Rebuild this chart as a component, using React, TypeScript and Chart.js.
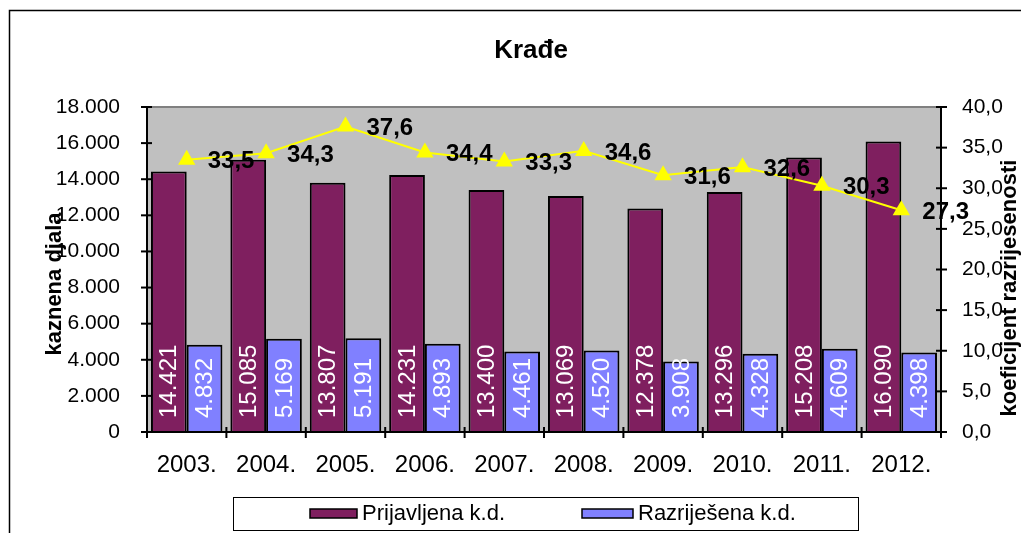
import React, { useEffect, useRef } from "react";
import { Chart, registerables } from "chart.js";

Chart.register(...registerables);

const categories = ["2003.", "2004.", "2005.", "2006.", "2007.", "2008.", "2009.", "2010.", "2011.", "2012."];
const prijavljena = [14421, 15085, 13807, 14231, 13400, 13069, 12378, 13296, 15208, 16090];
const razrijesena = [4832, 5169, 5191, 4893, 4461, 4520, 3908, 4328, 4609, 4398];
const koeficijent = [33.5, 34.3, 37.6, 34.4, 33.3, 34.6, 31.6, 32.6, 30.3, 27.3];

const titleText = "Krađe";
const leftTitle = "kaznena djala";
const rightTitle = "koeficijent razrijesenosti";
const seriesNames = ["Prijavljena k.d.", "Razriješena k.d."];
const leftMax = 18000;
const leftStep = 2000;
const rightMax = 40;
const rightStep = 5;

const FAMILY = "'Liberation Sans', Arial, sans-serif";
const MAROON = "#7F1F5F";
const BLUE = "#8080FF";
const YELLOW = "#FFFF00";

const fmtThousands = (n: number) => Math.round(n).toString().replace(/\B(?=(\d{3})+(?!\d))/g, ".");
const fmtDec = (n: number) => n.toFixed(1).replace(".", ",");

const decorPlugin = {
  id: "decor",
  beforeDraw(chart: any) {
    const { ctx, chartArea } = chart;
    ctx.save();
    ctx.fillStyle = "#ffffff";
    ctx.fillRect(0, 0, chart.width, chart.height);
    ctx.fillStyle = "#C0C0C0";
    ctx.fillRect(chartArea.left, chartArea.top, chartArea.right - chartArea.left, chartArea.bottom - chartArea.top);
    ctx.restore();
  },
  afterDatasetsDraw(chart: any) {
    const { ctx, chartArea } = chart;
    const yBottom = chartArea.bottom;
    ctx.save();
    // bar labels
    ctx.fillStyle = "#ffffff";
    ctx.font = `24px ${FAMILY}`;
    ctx.textAlign = "left";
    ctx.textBaseline = "middle";
    [0, 1].forEach((di) => {
      const meta = chart.getDatasetMeta(di);
      const data = chart.data.datasets[di].data as number[];
      meta.data.forEach((el: any, i: number) => {
        ctx.save();
        ctx.translate(el.x + 1, yBottom - 14);
        ctx.rotate(-Math.PI / 2);
        ctx.fillText(fmtThousands(data[i]), 0, 0);
        ctx.restore();
      });
    });
    // line labels
    const lmeta = chart.getDatasetMeta(2);
    ctx.fillStyle = "#000000";
    ctx.font = `bold 24px ${FAMILY}`;
    lmeta.data.forEach((el: any, i: number) => {
      ctx.fillText(fmtDec(koeficijent[i]), el.x + 21, el.y + 2);
    });
    ctx.restore();
  },
  afterDraw(chart: any) {
    const { ctx, chartArea, scales } = chart;
    const { left, right, top, bottom } = chartArea;
    ctx.save();
    // plot border
    ctx.lineWidth = 2;
    ctx.strokeStyle = "#808080";
    ctx.beginPath();
    ctx.moveTo(left, top);
    ctx.lineTo(right, top);
    ctx.stroke();
    ctx.strokeStyle = "#000000";
    ctx.beginPath();
    ctx.moveTo(left, top);
    ctx.lineTo(left, bottom);
    ctx.lineTo(right, bottom);
    ctx.lineTo(right, top);
    ctx.stroke();
    // ticks
    ctx.lineWidth = 2;
    for (let v = 0; v <= leftMax; v += leftStep) {
      const y = scales.y.getPixelForValue(v);
      ctx.beginPath();
      ctx.moveTo(left - 6, y);
      ctx.lineTo(left + 5, y);
      ctx.stroke();
    }
    for (let v = 0; v <= rightMax; v += rightStep) {
      const y = scales.y1.getPixelForValue(v);
      ctx.beginPath();
      ctx.moveTo(right - 5, y);
      ctx.lineTo(right + 6, y);
      ctx.stroke();
    }
    const catW = (right - left) / categories.length;
    for (let i = 0; i <= categories.length; i++) {
      const x = left + i * catW;
      ctx.beginPath();
      ctx.moveTo(x, bottom - 5);
      ctx.lineTo(x, bottom + 6);
      ctx.stroke();
    }
    // title
    ctx.fillStyle = "#000000";
    ctx.textAlign = "center";
    ctx.textBaseline = "middle";
    ctx.font = `bold 26px ${FAMILY}`;
    ctx.fillText(titleText, 531, 51);
    // axis titles
    ctx.font = `bold 22px ${FAMILY}`;
    ctx.save();
    ctx.translate(55, 284);
    ctx.rotate(-Math.PI / 2);
    ctx.fillText(leftTitle, 0, 0);
    ctx.restore();
    ctx.save();
    ctx.translate(1010, 288);
    ctx.rotate(-Math.PI / 2);
    ctx.fillText(rightTitle, 0, 0);
    ctx.restore();
    // legend
    ctx.lineWidth = 1;
    ctx.strokeStyle = "#000000";
    ctx.strokeRect(233.5, 497.5, 625, 33);
    const items = [
      { sx: 310, tx: 362, color: MAROON, label: seriesNames[0] },
      { sx: 582, tx: 638, color: BLUE, label: seriesNames[1] },
    ];
    ctx.font = `22px ${FAMILY}`;
    ctx.textAlign = "left";
    items.forEach((it) => {
      ctx.fillStyle = it.color;
      ctx.fillRect(it.sx, 509, it.tx - it.sx - 5, 9);
      ctx.lineWidth = 1.5;
      ctx.strokeRect(it.sx, 509, it.tx - it.sx - 5, 9);
      ctx.fillStyle = "#000000";
      ctx.fillText(it.label, it.tx, 514);
    });
    // outer border
    ctx.lineWidth = 1.5;
    ctx.strokeRect(9.5, 10.5, 1100, 600);
    ctx.restore();
  },
};

export default function App() {
  const ref = useRef<HTMLCanvasElement>(null);
  useEffect(() => {
    if (!ref.current) return;
    const chart = new Chart(ref.current, {
      type: "bar",
      data: {
        labels: categories,
        datasets: [
          {
            type: "bar",
            label: seriesNames[0],
            data: prijavljena,
            backgroundColor: MAROON,
            borderColor: "#000000",
            borderWidth: 2,
            yAxisID: "y",
            order: 1,
            categoryPercentage: 0.9,
            barPercentage: 1.0,
          },
          {
            type: "bar",
            label: seriesNames[1],
            data: razrijesena,
            backgroundColor: BLUE,
            borderColor: "#000000",
            borderWidth: 2,
            yAxisID: "y",
            order: 1,
            categoryPercentage: 0.9,
            barPercentage: 1.0,
          },
          {
            type: "line",
            label: "koeficijent",
            data: koeficijent,
            borderColor: YELLOW,
            borderWidth: 2,
            backgroundColor: YELLOW,
            pointStyle: "triangle",
            pointRadius: 10,
            pointBackgroundColor: YELLOW,
            pointBorderColor: YELLOW,
            pointBorderWidth: 0,
            yAxisID: "y1",
            order: 0,
            tension: 0,
          },
        ] as any,
      },
      options: {
        responsive: false,
        animation: false,
        devicePixelRatio: 1,
        layout: { padding: { top: 107, left: 0, right: 0, bottom: 0 } },
        plugins: {
          legend: { display: false },
          title: { display: false },
          tooltip: { enabled: false },
        },
        scales: {
          x: {
            type: "category",
            offset: true,
            grid: { display: false },
            border: { display: false },
            ticks: {
              color: "#000000",
              font: { family: FAMILY, size: 24 },
              padding: 11,
              maxRotation: 0,
              autoSkip: false,
            },
            afterFit: (s: any) => {
              s.height = 101;
            },
          },
          y: {
            position: "left",
            min: 0,
            max: leftMax,
            grid: { display: false },
            border: { display: false },
            ticks: {
              stepSize: leftStep,
              color: "#000000",
              font: { family: FAMILY, size: 21 },
              padding: 19,
              callback: (v: any) => fmtThousands(Number(v)),
            },
            afterFit: (s: any) => {
              s.width = 147;
            },
          },
          y1: {
            position: "right",
            min: 0,
            max: rightMax,
            grid: { display: false },
            border: { display: false },
            ticks: {
              stepSize: rightStep,
              color: "#000000",
              font: { family: FAMILY, size: 21 },
              padding: 13,
              callback: (v: any) => fmtDec(Number(v)),
            },
            afterFit: (s: any) => {
              s.width = 80;
            },
          },
        },
      } as any,
      plugins: [decorPlugin],
    });
    return () => chart.destroy();
  }, []);
  return (
    <div style={{ position: "absolute", left: 0, top: 0, width: 1021, height: 533 }}>
      <canvas ref={ref} width={1021} height={533} style={{ width: 1021, height: 533, display: "block" }} />
    </div>
  );
}
